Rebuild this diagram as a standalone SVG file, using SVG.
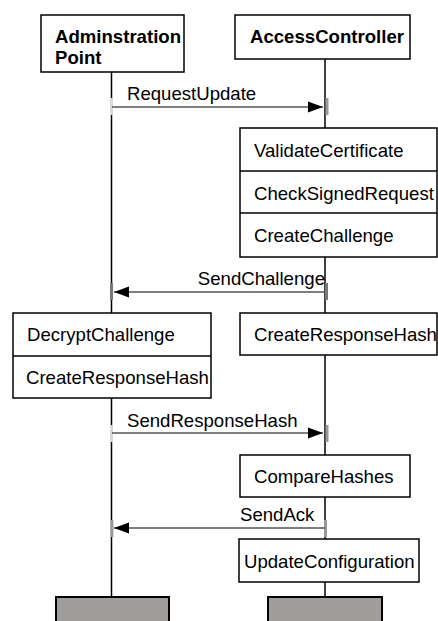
<svg xmlns="http://www.w3.org/2000/svg" width="438" height="621" viewBox="0 0 438 621">
  <style>
    .box { fill: #ffffff; stroke: #000000; stroke-width: 1.5; }
    .end { fill: #a09d9b; stroke: #000000; stroke-width: 2; }
    .life { stroke: #000000; stroke-width: 1.5; fill: none; }
    .msg { stroke: #555555; stroke-width: 1.5; fill: none; }
    .lbl { font-family: "Liberation Sans", Arial, sans-serif; font-size: 18.6px; fill: #000000; }
    .hdr { font-family: "Liberation Sans", Arial, sans-serif; font-size: 18.6px; font-weight: bold; fill: #000000; }
    .tickA { fill: #d8d8d8; }
    .tickB { fill: #999999; }
    .tickC { fill: #777777; }
  </style>
  <defs>
    <marker id="head" markerUnits="userSpaceOnUse" markerWidth="16" markerHeight="12" refX="15" refY="6" orient="auto">
      <path d="M0,0.5 L15,6 L0,11.5 Z" fill="#000000"/>
    </marker>
  </defs>
  <rect width="438" height="621" fill="#ffffff"/>

  <!-- lifelines -->
  <g id="lifelines">
    <line class="life" x1="111.5" y1="72" x2="111.5" y2="597"/>
    <line class="life" x1="325" y1="59" x2="325" y2="597"/>
  </g>

  <!-- participants -->
  <g id="adminPoint">
    <rect class="box" x="41" y="15" width="143" height="57"/>
    <text class="hdr" x="55" y="43">Adminstration</text>
    <text class="hdr" x="55" y="64">Point</text>
  </g>
  <g id="accessController">
    <rect class="box" x="235" y="15" width="175" height="44"/>
    <text class="hdr" x="250" y="43">AccessController</text>
  </g>

  <!-- activation boxes -->
  <g id="acChecks">
    <rect class="box" x="240" y="128" width="197" height="129"/>
    <line class="life" x1="240" y1="171" x2="437" y2="171"/>
    <line class="life" x1="240" y1="213" x2="437" y2="213"/>
    <text class="lbl" x="254" y="157">ValidateCertificate</text>
    <text class="lbl" x="254" y="200">CheckSignedRequest</text>
    <text class="lbl" x="254" y="242">CreateChallenge</text>
  </g>
  <g id="adminDecrypt">
    <rect class="box" x="13" y="313" width="198" height="85"/>
    <line class="life" x1="13" y1="356" x2="211" y2="356"/>
    <text class="lbl" x="27" y="341">DecryptChallenge</text>
    <text class="lbl" x="26" y="384">CreateResponseHash</text>
  </g>
  <g id="acResponseHash">
    <rect class="box" x="240" y="313" width="197" height="42"/>
    <text class="lbl" x="254" y="341">CreateResponseHash</text>
  </g>
  <g id="acCompare">
    <rect class="box" x="240" y="455" width="170" height="42"/>
    <text class="lbl" x="254" y="483">CompareHashes</text>
  </g>
  <g id="acUpdate">
    <rect class="box" x="239" y="539" width="180" height="43"/>
    <text class="lbl" x="244" y="568">UpdateConfiguration</text>
  </g>

  <!-- lifeline ends -->
  <g id="adminEnd">
    <rect class="end" x="56" y="597" width="113" height="30"/>
  </g>
  <g id="acEnd">
    <rect class="end" x="268" y="597" width="114" height="30"/>
  </g>

  <!-- messages -->
  <g id="connectors">
    <rect class="tickA" x="110" y="98" width="3" height="17"/>
    <rect class="tickB" x="325.5" y="98" width="3" height="17"/>
    <line class="msg" x1="112" y1="107" x2="323" y2="107" marker-end="url(#head)"/>
    <text class="lbl" x="127" y="100">RequestUpdate</text>

    <rect class="tickC" x="110" y="283" width="3" height="17"/>
    <rect class="tickC" x="325" y="283" width="3" height="17"/>
    <line class="msg" x1="325" y1="292" x2="114" y2="292" marker-end="url(#head)"/>
    <text class="lbl" x="325" y="285" text-anchor="end">SendChallenge</text>

    <rect class="tickA" x="110" y="425" width="3" height="17"/>
    <rect class="tickB" x="325.5" y="425" width="3" height="17"/>
    <line class="msg" x1="112" y1="433" x2="323" y2="433" marker-end="url(#head)"/>
    <text class="lbl" x="127" y="427">SendResponseHash</text>

    <rect class="tickB" x="110.5" y="520" width="3" height="17"/>
    <rect class="tickB" x="324" y="520" width="3" height="17"/>
    <line class="msg" x1="325" y1="528" x2="114" y2="528" marker-end="url(#head)"/>
    <text class="lbl" x="240" y="521">SendAck</text>
  </g>
</svg>
